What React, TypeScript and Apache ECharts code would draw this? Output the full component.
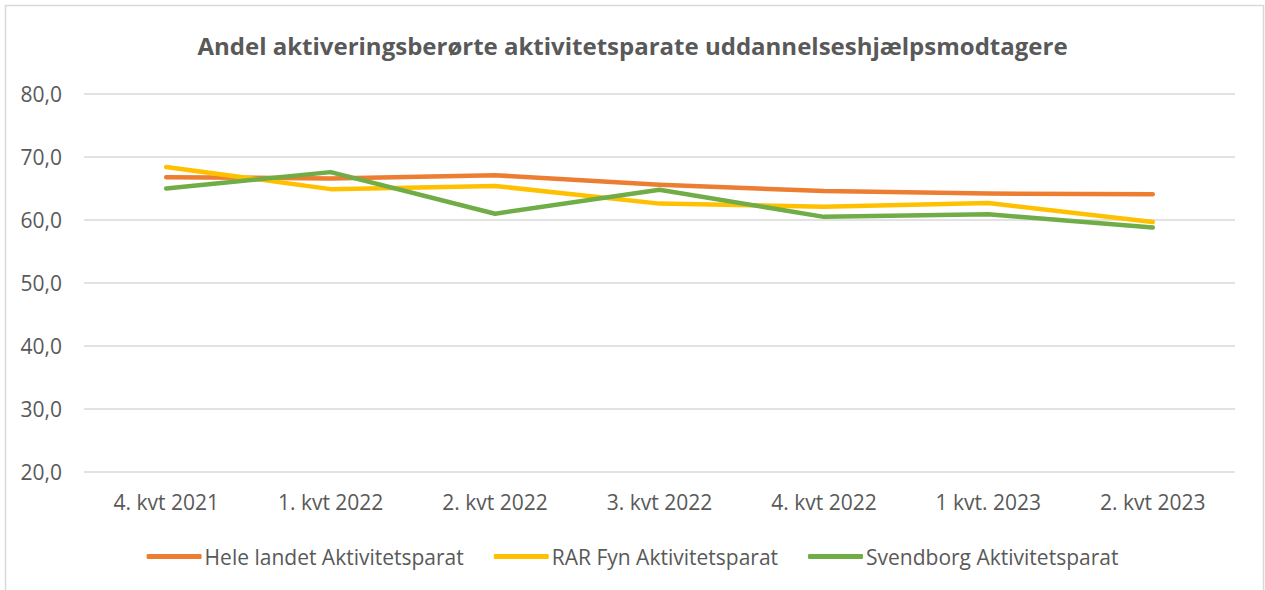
import React, { useEffect, useRef } from "react";
import * as echarts from "echarts";

const title = "Andel aktiveringsberørte aktivitetsparate uddannelseshjælpsmodtagere";
const categories = ["4. kvt 2021", "1. kvt 2022", "2. kvt 2022", "3. kvt 2022", "4. kvt 2022", "1 kvt. 2023", "2. kvt 2023"];
const heleLandet = [66.8, 66.6, 67.1, 65.6, 64.6, 64.2, 64.1];
const rarFyn = [68.4, 64.9, 65.4, 62.6, 62.1, 62.7, 59.7];
const svendborg = [65.0, 67.6, 61.0, 64.8, 60.5, 60.9, 58.8];
const seriesNames = ["Hele landet Aktivitetsparat", "RAR Fyn Aktivitetsparat", "Svendborg Aktivitetsparat"];
const colors = ["#ED7D31", "#FFC000", "#70AD47"];

const FONT = "'Open Sans', sans-serif";

export default function App() {
  const ref = useRef<HTMLDivElement>(null);
  useEffect(() => {
    if (!ref.current) return;
    const chart = echarts.init(ref.current, undefined, { renderer: "svg" });
    const data = [heleLandet, rarFyn, svendborg];
    chart.setOption({
      animation: false,
      backgroundColor: "#ffffff",
      color: colors,
      graphic: [
        {
          type: "rect",
          shape: { x: 5.5, y: 5.5, width: 1258, height: 600 },
          style: { fill: "none", stroke: "#d9d9d9", lineWidth: 1.5 },
          silent: true,
        },
      ],
      title: {
        text: title,
        left: "center",
        top: 28,
        textStyle: { fontFamily: FONT, fontSize: 24, fontWeight: "bold", color: "#595959" },
      },
      legend: {
        bottom: 18,
        left: "center",
        itemWidth: 55,
        itemHeight: 5,
        itemGap: 30,
        icon: "roundRect",
        textStyle: { fontFamily: FONT, fontSize: 21, color: "#595959", padding: [0, 0, 0, -2] },
        data: seriesNames,
      },
      grid: { left: 84, right: 30, top: 94, bottom: 118, containLabel: false },
      xAxis: {
        type: "category",
        data: categories,
        boundaryGap: true,
        axisLine: { show: false },
        axisTick: { show: false },
        axisLabel: { fontFamily: FONT, fontSize: 21, color: "#595959", margin: 19 },
      },
      yAxis: {
        type: "value",
        min: 20,
        max: 80,
        interval: 10,
        axisLine: { show: false },
        axisTick: { show: false },
        axisLabel: {
          fontFamily: FONT,
          fontSize: 21,
          color: "#595959",
          margin: 22,
          formatter: (v: number) => v.toFixed(1).replace(".", ","),
        },
        splitLine: { lineStyle: { color: "#d9d9d9", width: 1.5 } },
      },
      series: seriesNames.map((name, i) => ({
        name,
        type: "line",
        data: data[i],
        symbol: "none",
        lineStyle: { width: 4.5, color: colors[i], cap: "round", join: "round" },
        itemStyle: { color: colors[i] },
      })),
    });
    return () => chart.dispose();
  }, []);
  return <div ref={ref} style={{ position: "fixed", left: 0, top: 0, width: 1265, height: 590 }} />;
}
